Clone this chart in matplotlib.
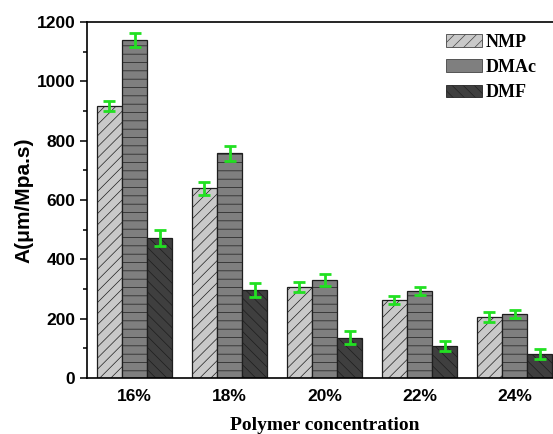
import matplotlib

matplotlib.use("Agg")

import matplotlib.pyplot as plt
import numpy as np
from matplotlib.patches import Patch
from matplotlib.ticker import MultipleLocator

CONCENTRATIONS = ["16%", "18%", "20%", "22%", "24%"]
SOLVENTS = ["NMP", "DMAc", "DMF"]

NMP = [917, 640, 307, 263, 206]
DMAC = [1139, 758, 330, 293, 216]
DMF = [472, 297, 135, 108, 81]

NMP_ERR = [18, 22, 17, 13, 17]
DMAC_ERR = [23, 25, 19, 13, 13]
DMF_ERR = [27, 23, 22, 18, 17]

FACE_COLORS = ["#c9c9c9", "#7f7f7f", "#3f3f3f"]
HATCHES = ["///", "--", "\\\\\\"]
ERR_COLOR = "#22e022"
BAR_WIDTH = 0.265

plt.rcParams["hatch.linewidth"] = 0.5

SANS = "Liberation Sans"
SERIF = "Liberation Serif"

fig = plt.figure(figsize=(5.53, 4.34), dpi=100)
ax = fig.add_axes([87 / 553, 56 / 434, 475 / 553, 356 / 434])

x = np.arange(len(CONCENTRATIONS))
series = [NMP, DMAC, DMF]
errors = [NMP_ERR, DMAC_ERR, DMF_ERR]

for i, (values, err) in enumerate(zip(series, errors)):
    pos = x + (i - 1) * BAR_WIDTH
    ax.bar(
        pos,
        values,
        width=BAR_WIDTH,
        color=FACE_COLORS[i],
        edgecolor="#1e1e1e",
        linewidth=0.9,
        hatch=HATCHES[i],
        zorder=2,
    )
    ax.errorbar(
        pos,
        values,
        yerr=err,
        fmt="none",
        ecolor=ERR_COLOR,
        elinewidth=2.0,
        capsize=4,
        capthick=2.0,
        zorder=3,
    )

ax.set_xlim(-0.5, 4.5)
ax.set_ylim(0, 1200)
ax.set_xticks(x)
ax.set_xticklabels(CONCENTRATIONS, fontfamily=SANS, fontweight="bold", fontsize=12.5)
ax.yaxis.set_major_locator(MultipleLocator(200))
ax.yaxis.set_minor_locator(MultipleLocator(100))
for label in ax.get_yticklabels():
    label.set_fontfamily(SANS)
    label.set_fontweight("bold")
    label.set_fontsize(12.5)
ax.tick_params(axis="x", length=0, pad=8)
ax.tick_params(axis="y", which="major", direction="out", length=5, width=1.1)
ax.tick_params(axis="y", which="minor", direction="out", length=3, width=1.1)
for spine in ax.spines.values():
    spine.set_linewidth(1.2)

ax.set_ylabel("A(\u03bcm/Mpa.s)", fontfamily=SANS, fontweight="bold", fontsize=15, labelpad=2)
ax.set_xlabel("Polymer concentration", fontfamily=SERIF, fontweight="bold", fontsize=14, labelpad=9)

handles = [
    Patch(facecolor=FACE_COLORS[0], edgecolor="#444444", hatch="///", linewidth=0.6),
    Patch(facecolor=FACE_COLORS[1], edgecolor="#444444", linewidth=0.6),
    Patch(facecolor=FACE_COLORS[2], edgecolor="#222222", hatch="\\\\\\", linewidth=0.6),
]
ax.legend(
    handles,
    SOLVENTS,
    loc="upper left",
    bbox_to_anchor=((446 - 87) / 475, (378 - 34) / 356),
    frameon=False,
    prop={"family": SERIF, "weight": "bold", "size": 13},
    handlelength=2.0,
    handleheight=0.7,
    handletextpad=0.17,
    labelspacing=0.45,
    borderpad=0,
    borderaxespad=0,
)

fig.savefig("out.png", dpi=100)
